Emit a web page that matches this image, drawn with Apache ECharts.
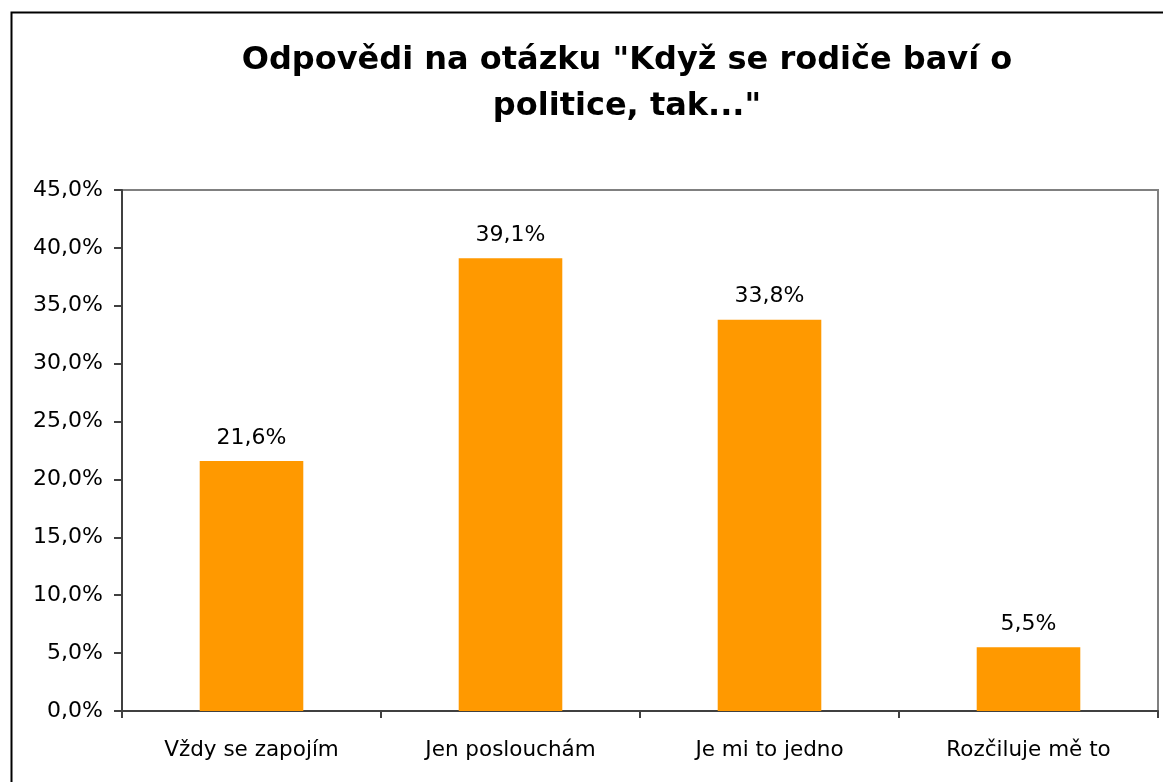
<!DOCTYPE html>
<html>
<head>
<meta charset="utf-8">
<script src="https://cdn.jsdelivr.net/npm/echarts@6/dist/echarts.min.js"></script>
<style>
html,body{margin:0;padding:0;background:#fff;}
#c{width:1163px;height:782px;}
</style>
</head>
<body>
<div id="c"></div>
<script>
const titleText = 'Odpovědi na otázku "Když se rodiče baví o\npolitice, tak..."';
const categories = ['Vždy se zapojím', 'Jen poslouchám', 'Je mi to jedno', 'Rozčiluje mě to'];
const values = [21.6, 39.1, 33.8, 5.5];
const yMin = 0, yMax = 45, yStep = 5;

const FONT = 'DejaVu Sans';
const fmt = v => v.toFixed(1).replace('.', ',') + '%';

const chart = echarts.init(document.getElementById('c'), null, {renderer: 'canvas'});
chart.setOption({
  backgroundColor: '#ffffff',
  animation: false,
  graphic: [{
    type: 'rect', left: 9, top: 10, z: 100, silent: true,
    shape: {width: 1200, height: 800},
    style: {fill: 'none', stroke: '#000', lineWidth: 2}
  }],
  title: {
    text: titleText,
    left: 622, textAlign: 'center', top: 33,
    textStyle: {fontFamily: FONT, fontWeight: 'bold', fontSize: 32, lineHeight: 46, color: '#000'}
  },
  grid: {
    left: 122, right: 5, top: 190, bottom: 71,
    show: true, borderColor: '#808080', borderWidth: 2, backgroundColor: '#fff'
  },
  xAxis: {
    type: 'category', data: categories,
    axisLine: {lineStyle: {color: '#404040', width: 2}},
    axisTick: {show: true, length: 7, lineStyle: {color: '#404040', width: 2}},
    axisLabel: {fontFamily: FONT, fontSize: 21.5, color: '#000', margin: 28}
  },
  yAxis: {
    type: 'value', min: yMin, max: yMax, interval: yStep,
    axisLine: {show: true, lineStyle: {color: '#404040', width: 2}},
    axisTick: {show: true, length: 8, lineStyle: {color: '#404040', width: 2}},
    splitLine: {show: false},
    axisLabel: {fontFamily: FONT, fontSize: 22, color: '#000', margin: 19, padding: [9, 0, 0, 0], formatter: fmt}
  },
  series: [{
    type: 'bar', data: values, barWidth: '40%',
    itemStyle: {color: '#FF9900'},
    label: {show: true, position: 'top', distance: 12, fontFamily: FONT, fontSize: 22, color: '#000',
      formatter: p => fmt(p.value)}
  }]
});
</script>
</body>
</html>
